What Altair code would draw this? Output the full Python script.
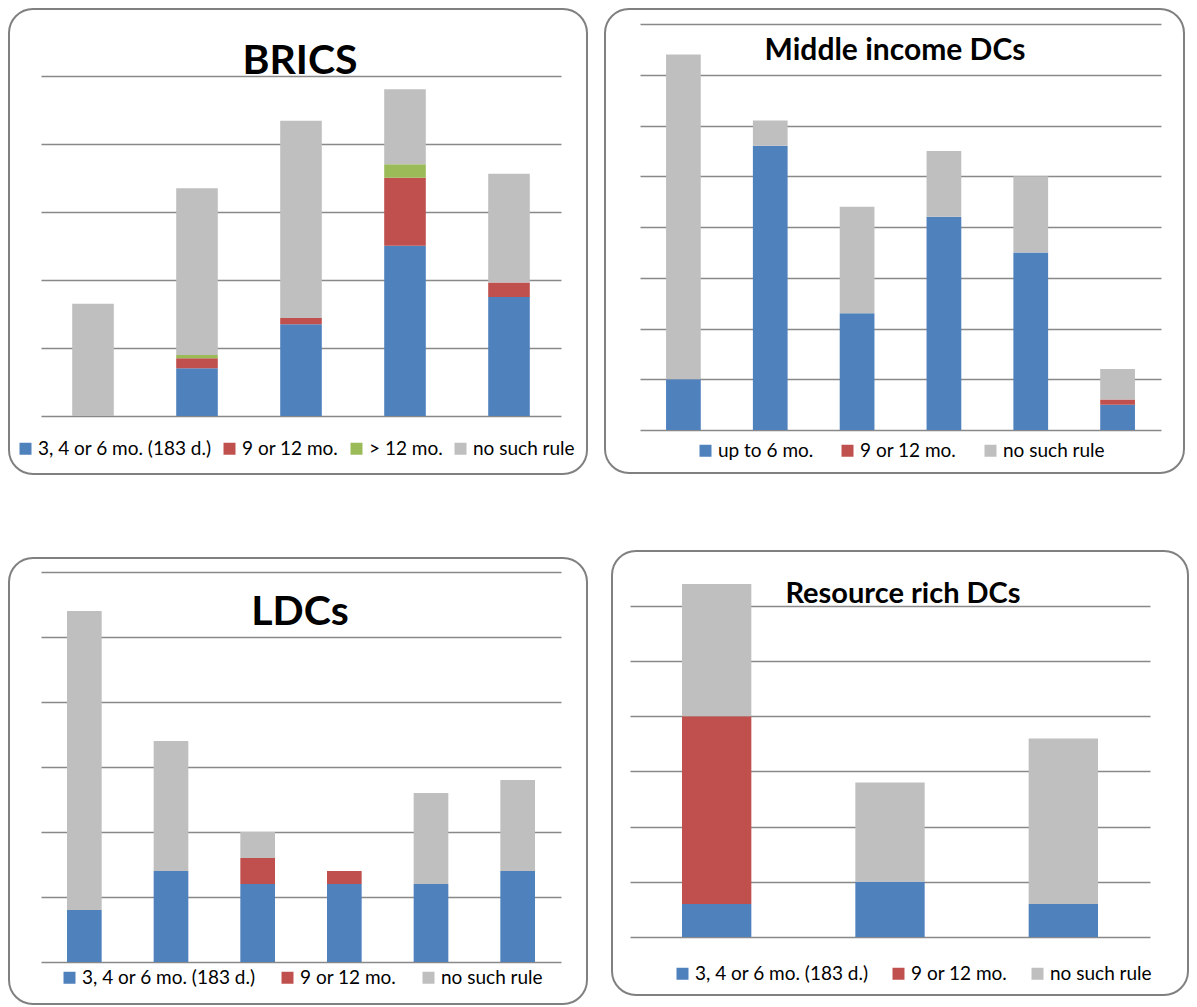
import altair as alt
import pandas as pd

# ---------------- data ----------------
BLUE, RED, GREEN, GREY = "#4F81BD", "#C0504D", "#9BBB59", "#BFBFBF"

brics_cats = ["1", "2", "3", "4", "5"]
brics_series = ["3, 4 or 6 mo. (183 d.)", "9 or 12 mo.", "> 12 mo.", "no such rule"]
brics_short = [0, 7.0, 13.5, 25.0, 17.5]
brics_mid = [0, 1.5, 0.9, 10.0, 2.1]
brics_long = [0, 0.45, 0, 2.0, 0]
brics_none = [16.5, 24.5, 29.0, 11.0, 16.0]
brics_ticks = [0, 10, 20, 30, 40, 50]

mid_cats = ["1", "2", "3", "4", "5", "6"]
mid_series = ["up to 6 mo.", "9 or 12 mo.", "no such rule"]
mid_short = [10, 56, 23, 42, 35, 5]
mid_mid = [0, 0, 0, 0, 0, 1]
mid_none = [64, 5, 21, 13, 15, 6]
mid_ticks = [0, 10, 20, 30, 40, 50, 60, 70, 80]

ldc_cats = ["1", "2", "3", "4", "5", "6"]
ldc_series = ["3, 4 or 6 mo. (183 d.)", "9 or 12 mo.", "no such rule"]
ldc_short = [4, 7, 6, 6, 6, 7]
ldc_mid = [0, 0, 2, 1, 0, 0]
ldc_none = [23, 10, 2, 0, 7, 7]
ldc_ticks = [0, 5, 10, 15, 20, 25, 30]

res_cats = ["1", "2", "3"]
res_series = ["3, 4 or 6 mo. (183 d.)", "9 or 12 mo.", "no such rule"]
res_short = [3, 5, 3]
res_mid = [17, 0, 0]
res_none = [12, 9, 15]
res_ticks = [0, 5, 10, 15, 20, 25, 30]

GRID = "#898989"
BOX = "#808080"
FONT = "Lato"


def make_df(cats, series, arrays):
    rows = []
    for k, (s, arr) in enumerate(zip(series, arrays)):
        for c, v in zip(cats, arr):
            if v > 0:
                rows.append({"cat": c, "series": s, "k": k, "value": v})
    return pd.DataFrame(rows)


def panel(title, cats, series, arrays, colors, ymax, ticks, w, h,
          box, title_size, title_x, title_y, leg_x, leg_y, colpad):
    df = make_df(cats, series, arrays)
    bars = alt.Chart(df).mark_bar().encode(
        x=alt.X("cat:N", sort=cats, axis=None,
                scale=alt.Scale(paddingInner=0.6, paddingOuter=0.3)),
        y=alt.Y("value:Q", stack="zero",
                scale=alt.Scale(domain=[0, ymax], nice=False, zero=True),
                axis=alt.Axis(values=ticks, labels=False, ticks=False, domain=False,
                              grid=True, gridColor=GRID, gridWidth=1.5,
                              gridOpacity=1, title=None)),
        color=alt.Color("series:N", scale=alt.Scale(domain=series, range=colors),
                        legend=alt.Legend(orient="none", legendX=leg_x, legendY=leg_y,
                                          direction="horizontal", title=None,
                                          symbolType="square", symbolSize=144,
                                          symbolStrokeWidth=0, labelFont=FONT,
                                          labelFontSize=19, labelColor="#000000",
                                          labelOffset=3, columnPadding=colpad,
                                          labelLimit=400)),
        order=alt.Order("k:Q", sort="ascending"),
    )
    one = pd.DataFrame({"t": [title]})
    bx0, bx1, by0, by1 = box
    border = alt.Chart(one).mark_rect(filled=False, stroke=BOX, strokeWidth=2,
                                      cornerRadius=24).encode(
        x=alt.value(bx0), x2=alt.value(bx1), y=alt.value(by0), y2=alt.value(by1))
    ttl = alt.Chart(one).mark_text(font=FONT, fontWeight="bold", fontSize=title_size,
                                   baseline="alphabetic", align="center",
                                   color="#000000").encode(
        x=alt.value(title_x), y=alt.value(title_y), text="t:N")
    return alt.layer(border, bars, ttl).properties(width=w, height=h)


brics = panel("BRICS", brics_cats, brics_series,
              [brics_short, brics_mid, brics_long, brics_none],
              [BLUE, RED, GREEN, GREY], 57.6, brics_ticks, 520, 392,
              (-32, 546, -15, 450), 41, 259, 50, -25, 415, 8)

middle = panel("Middle income DCs", mid_cats, mid_series,
               [mid_short, mid_mid, mid_none],
               [BLUE, RED, GREY], 80, mid_ticks, 521, 406,
               (-35, 544, -15, 449), 30, 255, 36, 56, 417, 24)

ldc = panel("LDCs", ldc_cats, ldc_series,
            [ldc_short, ldc_mid, ldc_none],
            [BLUE, RED, GREY], 30, ldc_ticks, 520, 390,
            (-32, 546, -14, 432), 41, 259, 53, 19, 396, 22)

res = panel("Resource rich DCs", res_cats, res_series,
            [res_short, res_mid, res_none],
            [BLUE, RED, GREY], 33.08, res_ticks, 520, 365,
            (-18, 558, -21, 423), 29, 273, 31, 43, 392, 20)

row1 = alt.hconcat(brics, middle, spacing=16).resolve_scale(color="independent")
row2 = alt.hconcat(ldc, res, spacing=23).resolve_scale(color="independent")
chart = (alt.vconcat(row1, row2, spacing=75)
         .resolve_scale(color="independent")
         .properties(padding=0)
         .configure_view(strokeWidth=0))

chart.save("out.html", embed_options={"renderer": "svg", "actions": False})
